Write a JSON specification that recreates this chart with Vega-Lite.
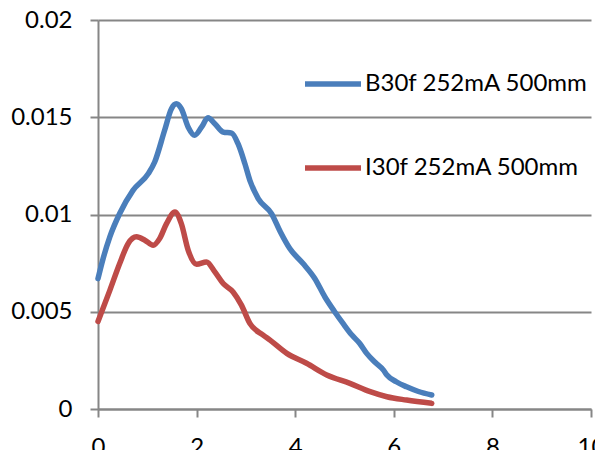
{
  "$schema": "https://vega.github.io/schema/vega-lite/v6.json",
  "autosize": "none",
  "width": 493,
  "height": 389,
  "padding": {"left": 98, "top": 20, "right": 4, "bottom": 41},
  "background": "white",
  "config": {
    "view": {"stroke": null},
    "font": "Lato",
    "axis": {
      "labelFont": "Lato",
      "labelFontSize": 24,
      "labelColor": "black",
      "domainColor": "#868686",
      "tickColor": "#868686",
      "gridColor": "#868686",
      "domainWidth": 2,
      "tickWidth": 2,
      "gridWidth": 2,
      "tickSize": 8,
      "title": null
    }
  },
  "data": {
    "values": [
      {"series": "B30f 252mA 500mm", "x": 0, "y": 0.0067},
      {"series": "B30f 252mA 500mm", "x": 0.1, "y": 0.0077},
      {"series": "B30f 252mA 500mm", "x": 0.24, "y": 0.00885},
      {"series": "B30f 252mA 500mm", "x": 0.44, "y": 0.01005},
      {"series": "B30f 252mA 500mm", "x": 0.71, "y": 0.01124},
      {"series": "B30f 252mA 500mm", "x": 1.02, "y": 0.0121},
      {"series": "B30f 252mA 500mm", "x": 1.15, "y": 0.0127},
      {"series": "B30f 252mA 500mm", "x": 1.35, "y": 0.01432},
      {"series": "B30f 252mA 500mm", "x": 1.49, "y": 0.01544},
      {"series": "B30f 252mA 500mm", "x": 1.59, "y": 0.01569},
      {"series": "B30f 252mA 500mm", "x": 1.69, "y": 0.01544},
      {"series": "B30f 252mA 500mm", "x": 1.83, "y": 0.01449},
      {"series": "B30f 252mA 500mm", "x": 1.96, "y": 0.01407},
      {"series": "B30f 252mA 500mm", "x": 2.1, "y": 0.01449},
      {"series": "B30f 252mA 500mm", "x": 2.23, "y": 0.01497},
      {"series": "B30f 252mA 500mm", "x": 2.37, "y": 0.01467},
      {"series": "B30f 252mA 500mm", "x": 2.54, "y": 0.01424},
      {"series": "B30f 252mA 500mm", "x": 2.71, "y": 0.01418},
      {"series": "B30f 252mA 500mm", "x": 2.84, "y": 0.01364},
      {"series": "B30f 252mA 500mm", "x": 2.98, "y": 0.01261},
      {"series": "B30f 252mA 500mm", "x": 3.08, "y": 0.01176},
      {"series": "B30f 252mA 500mm", "x": 3.25, "y": 0.01082},
      {"series": "B30f 252mA 500mm", "x": 3.52, "y": 0.01005},
      {"series": "B30f 252mA 500mm", "x": 3.7, "y": 0.0091},
      {"series": "B30f 252mA 500mm", "x": 3.89, "y": 0.00825},
      {"series": "B30f 252mA 500mm", "x": 4.16, "y": 0.00748},
      {"series": "B30f 252mA 500mm", "x": 4.4, "y": 0.0067},
      {"series": "B30f 252mA 500mm", "x": 4.6, "y": 0.00577},
      {"series": "B30f 252mA 500mm", "x": 4.8, "y": 0.005},
      {"series": "B30f 252mA 500mm", "x": 4.97, "y": 0.0044},
      {"series": "B30f 252mA 500mm", "x": 5.15, "y": 0.0038},
      {"series": "B30f 252mA 500mm", "x": 5.31, "y": 0.00337},
      {"series": "B30f 252mA 500mm", "x": 5.45, "y": 0.00286},
      {"series": "B30f 252mA 500mm", "x": 5.62, "y": 0.0024},
      {"series": "B30f 252mA 500mm", "x": 5.79, "y": 0.002},
      {"series": "B30f 252mA 500mm", "x": 5.86, "y": 0.00175},
      {"series": "B30f 252mA 500mm", "x": 6.05, "y": 0.0014},
      {"series": "B30f 252mA 500mm", "x": 6.26, "y": 0.00114},
      {"series": "B30f 252mA 500mm", "x": 6.5, "y": 0.0009},
      {"series": "B30f 252mA 500mm", "x": 6.77, "y": 0.00072},
      {"series": "I30f 252mA 500mm", "x": 0, "y": 0.0045},
      {"series": "I30f 252mA 500mm", "x": 0.24, "y": 0.0061},
      {"series": "I30f 252mA 500mm", "x": 0.44, "y": 0.00748},
      {"series": "I30f 252mA 500mm", "x": 0.61, "y": 0.0085},
      {"series": "I30f 252mA 500mm", "x": 0.78, "y": 0.00885},
      {"series": "I30f 252mA 500mm", "x": 0.95, "y": 0.00868},
      {"series": "I30f 252mA 500mm", "x": 1.12, "y": 0.00842},
      {"series": "I30f 252mA 500mm", "x": 1.25, "y": 0.00876},
      {"series": "I30f 252mA 500mm", "x": 1.39, "y": 0.00953},
      {"series": "I30f 252mA 500mm", "x": 1.56, "y": 0.01013},
      {"series": "I30f 252mA 500mm", "x": 1.69, "y": 0.00953},
      {"series": "I30f 252mA 500mm", "x": 1.83, "y": 0.00816},
      {"series": "I30f 252mA 500mm", "x": 2.0, "y": 0.00744},
      {"series": "I30f 252mA 500mm", "x": 2.2, "y": 0.00756},
      {"series": "I30f 252mA 500mm", "x": 2.37, "y": 0.00705},
      {"series": "I30f 252mA 500mm", "x": 2.54, "y": 0.00645},
      {"series": "I30f 252mA 500mm", "x": 2.74, "y": 0.00602},
      {"series": "I30f 252mA 500mm", "x": 2.91, "y": 0.00534},
      {"series": "I30f 252mA 500mm", "x": 3.08, "y": 0.0044},
      {"series": "I30f 252mA 500mm", "x": 3.35, "y": 0.0038},
      {"series": "I30f 252mA 500mm", "x": 3.49, "y": 0.00354},
      {"series": "I30f 252mA 500mm", "x": 3.83, "y": 0.00286},
      {"series": "I30f 252mA 500mm", "x": 4.23, "y": 0.00235},
      {"series": "I30f 252mA 500mm", "x": 4.64, "y": 0.00175},
      {"series": "I30f 252mA 500mm", "x": 5.11, "y": 0.00132},
      {"series": "I30f 252mA 500mm", "x": 5.52, "y": 0.00089},
      {"series": "I30f 252mA 500mm", "x": 5.86, "y": 0.00063},
      {"series": "I30f 252mA 500mm", "x": 6.26, "y": 0.00046},
      {"series": "I30f 252mA 500mm", "x": 6.77, "y": 0.00029}
    ]
  },
  "mark": {"type": "line", "strokeWidth": 5.5, "interpolate": "monotone", "strokeCap": "round", "strokeJoin": "round"},
  "encoding": {
    "x": {
      "field": "x", "type": "quantitative",
      "scale": {"domain": [0, 10], "nice": false, "zero": false},
      "axis": {"values": [0, 2, 4, 6, 8, 10], "grid": false, "labelPadding": 18, "labelFlush": false}
    },
    "y": {
      "field": "y", "type": "quantitative",
      "scale": {"domain": [0, 0.02], "nice": false},
      "axis": {"values": [0, 0.005, 0.01, 0.015, 0.02], "grid": true, "format": "~g", "labelPadding": 18, "labelFlush": false}
    },
    "color": {
      "field": "series", "type": "nominal",
      "scale": {"domain": ["B30f 252mA 500mm", "I30f 252mA 500mm"], "range": ["#4A7EBB", "#BE4B48"]},
      "legend": {
        "title": null,
        "orient": "none",
        "legendX": 204,
        "legendY": 33,
        "symbolType": "stroke",
        "symbolSize": 3136,
        "symbolStrokeWidth": 5.5,
        "labelFont": "Lato",
        "labelFontSize": 24,
        "labelColor": "black",
        "labelOffset": 1,
        "labelLimit": 0,
        "rowPadding": 41,
        "padding": 0
      }
    }
  }
}
